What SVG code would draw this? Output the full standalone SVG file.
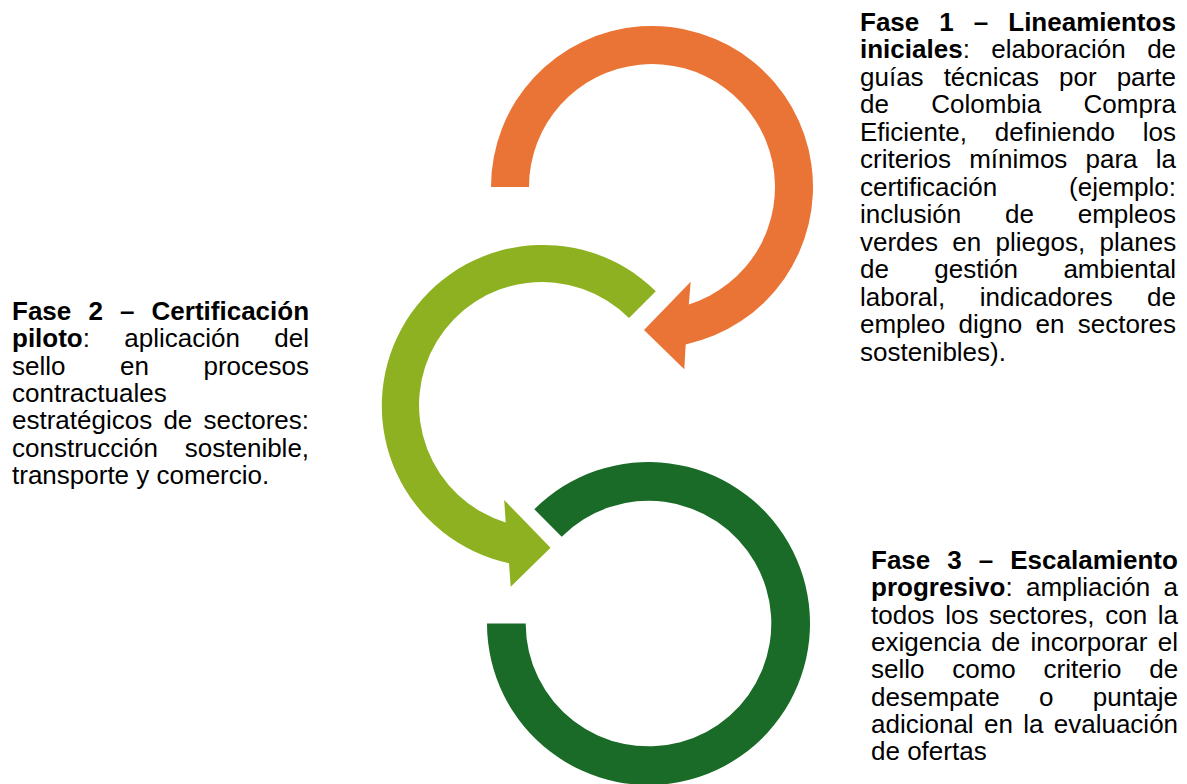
<svg xmlns="http://www.w3.org/2000/svg" width="1187" height="784" viewBox="0 0 1187 784">
<style>
  .t { font-family: "Liberation Sans", Arial, sans-serif; font-size: 26px; fill: #000; }
  .b { font-weight: 700; }
  .orange { fill: #EA7435; }
  .lgreen { fill: #8DB121; }
  .dgreen { fill: #1A6B27; }
</style>
<rect width="1187" height="784" fill="#fff"/>
<g id="connectors">
  <path id="arrow1" class="orange" d="M 491 187 A 161 161 0 1 1 685.7 344.4 L 684.3 369.3 L 644 330 L 690.7 281.7 L 688.8 304.4 A 123 123 0 1 0 529 187 Z"/>
  <path id="arrow2" class="lgreen" d="M 655.8 291.2 A 161 161 0 1 0 509 563.3 L 510.7 586.7 L 550.5 547.7 L 504.2 500 L 505.7 522.5 A 123 123 0 1 1 629 318 Z"/>
  <path id="arrow3" class="dgreen" d="M 534.3 509.3 A 161.5 161.5 0 1 1 487 623.5 L 525.7 623.5 A 122.8 122.8 0 1 0 561.7 536.7 Z"/>
</g>
<g id="fase1">
  <text class="t" x="860" y="30.5" style="word-spacing:12.8px"><tspan class="b">Fase 1 – Lineamientos</tspan></text>
  <text class="t" x="860" y="58" style="word-spacing:14.2px"><tspan class="b">iniciales</tspan>: elaboración de</text>
  <text class="t" x="860" y="85.5" style="word-spacing:12.8px">guías técnicas por parte</text>
  <text class="t" x="860" y="113" style="word-spacing:35.2px">de Colombia Compra</text>
  <text class="t" x="860" y="140.5" style="word-spacing:20.7px">Eficiente, definiendo los</text>
  <text class="t" x="860" y="168" style="word-spacing:10.9px">criterios mínimos para la</text>
  <text class="t" x="860" y="195.5" style="word-spacing:64.6px">certificación (ejemplo:</text>
  <text class="t" x="860" y="223" style="word-spacing:36.6px">inclusión de empleos</text>
  <text class="t" x="860" y="250.5" style="word-spacing:7.1px">verdes en pliegos, planes</text>
  <text class="t" x="860" y="278" style="word-spacing:38.1px">de gestión ambiental</text>
  <text class="t" x="860" y="305.5" style="word-spacing:27.2px">laboral, indicadores de</text>
  <text class="t" x="860" y="333" style="word-spacing:6.1px">empleo digno en sectores</text>
  <text class="t" x="860" y="360.5">sostenibles).</text>
</g>
<g id="fase2">
  <text class="t" x="12" y="320" style="word-spacing:9.9px"><tspan class="b">Fase 2 – Certificación</tspan></text>
  <text class="t" x="12" y="347.3" style="word-spacing:27.1px"><tspan class="b">piloto</tspan>: aplicación del</text>
  <text class="t" x="12" y="374.6" style="word-spacing:47.3px">sello en procesos</text>
  <text class="t" x="12" y="401.9">contractuales</text>
  <text class="t" x="12" y="429.2" style="word-spacing:4px">estratégicos de sectores:</text>
  <text class="t" x="12" y="456.5" style="word-spacing:19.6px">construcción sostenible,</text>
  <text class="t" x="12" y="483.8">transporte y comercio.</text>
</g>
<g id="fase3">
  <text class="t" x="871" y="569" style="word-spacing:9.8px"><tspan class="b">Fase 3 – Escalamiento</tspan></text>
  <text class="t" x="871" y="596.3" style="word-spacing:6.1px"><tspan class="b">progresivo</tspan>: ampliación a</text>
  <text class="t" x="871" y="623.6" style="word-spacing:3.4px">todos los sectores, con la</text>
  <text class="t" x="871" y="650.9" style="word-spacing:3.1px">exigencia de incorporar el</text>
  <text class="t" x="871" y="678.2" style="word-spacing:20.5px">sello como criterio de</text>
  <text class="t" x="871" y="705.5" style="word-spacing:32.1px">desempate o puntaje</text>
  <text class="t" x="871" y="732.8" style="word-spacing:3.1px">adicional en la evaluación</text>
  <text class="t" x="871" y="760.1">de ofertas</text>
</g>
</svg>
